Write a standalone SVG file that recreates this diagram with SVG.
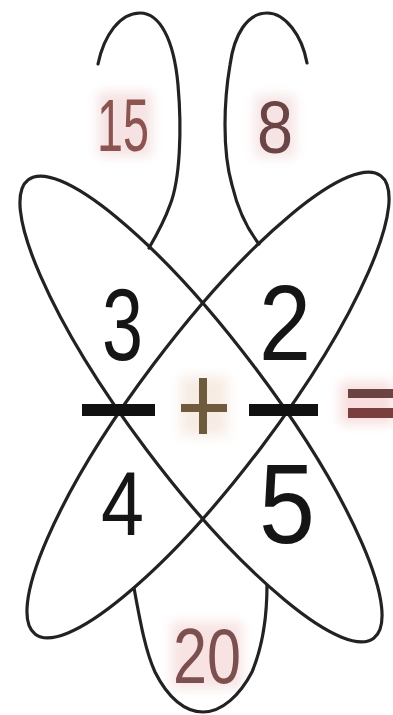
<svg xmlns="http://www.w3.org/2000/svg" width="393" height="715" viewBox="0 0 393 715">
  <style>
    .ln { fill: none; stroke: #222; stroke-width: 3.2; stroke-linecap: round; }
    .big { font-family: "Liberation Sans", Arial, sans-serif; fill: #151515; }
    .col { font-family: "Liberation Sans", Arial, sans-serif; }
    .glow { filter: url(#blur); }
  </style>
  <defs>
    <filter id="blur" x="-50%" y="-50%" width="200%" height="200%">
      <feGaussianBlur stdDeviation="6"/>
    </filter>
  </defs>
  <rect width="393" height="715" fill="#ffffff"/>

  <g id="glows" class="glow">
    <rect x="98" y="92" width="54" height="64" fill="#f6e2e2"/>
    <rect x="255" y="95" width="40" height="62" fill="#f6e4e4"/>
    <rect x="172" y="622" width="70" height="66" fill="#f8e2e2"/>
    <rect x="180" y="376" width="48" height="60" fill="#f7ece4"/>
    <rect x="340" y="382" width="53" height="42" fill="#f8dede"/>
  </g>

  <g id="loops">
    <ellipse id="ellipse-a" class="ln" cx="201" cy="409" rx="287" ry="68" transform="rotate(53 201 409)"/>
    <ellipse id="ellipse-b" class="ln" cx="208" cy="405" rx="287" ry="68" transform="rotate(-53 208 405)"/>
    <path id="loop-top-left" class="ln" d="M98,64 C104,35 120,13 140,13 C160,13 174,40 178,85 C182,130 180,180 170,205 C164,222 156,236 149,248"/>
    <path id="loop-top-right" class="ln" d="M307,63 C302,35 285,13 267,13 C247,13 234,35 230,65 C224,100 222,150 232,185 C238,210 248,230 259,244"/>
    <path id="loop-bottom" class="ln" d="M134,588 C140,620 145,650 155,672 C168,698 185,712 203,712 C222,712 240,695 252,672 C262,648 267,620 267,585"/>
  </g>

  <g id="numbers">
    <text class="big" x="102" y="360" font-size="102" textLength="41" lengthAdjust="spacingAndGlyphs">3</text>
    <text class="big" x="259" y="360" font-size="107" textLength="52" lengthAdjust="spacingAndGlyphs">2</text>
    <text class="big" x="101" y="535" font-size="91" textLength="43" lengthAdjust="spacingAndGlyphs">4</text>
    <text class="big" x="259" y="543" font-size="113" textLength="56" lengthAdjust="spacingAndGlyphs">5</text>
    <text class="col" x="97" y="151" font-size="75" fill="#8b5450" textLength="52" lengthAdjust="spacingAndGlyphs">15</text>
    <text class="col" x="257" y="153" font-size="74" fill="#6b4545" textLength="36" lengthAdjust="spacingAndGlyphs">8</text>
    <text class="col" x="173" y="683" font-size="78" fill="#7d5050" textLength="68" lengthAdjust="spacingAndGlyphs">20</text>
  </g>

  <g id="operators">
    <rect x="82" y="404" width="73" height="12" fill="#111"/>
    <rect x="249" y="404" width="69" height="12" fill="#111"/>
    <rect x="199" y="378" width="8" height="56" fill="#6e5a3c"/>
    <rect x="181" y="404" width="46" height="8" fill="#6e5a3c"/>
    <rect x="348" y="389" width="45" height="9" fill="#6b4442"/>
    <rect x="348" y="408" width="45" height="10" fill="#7a3e3e"/>
  </g>
</svg>
